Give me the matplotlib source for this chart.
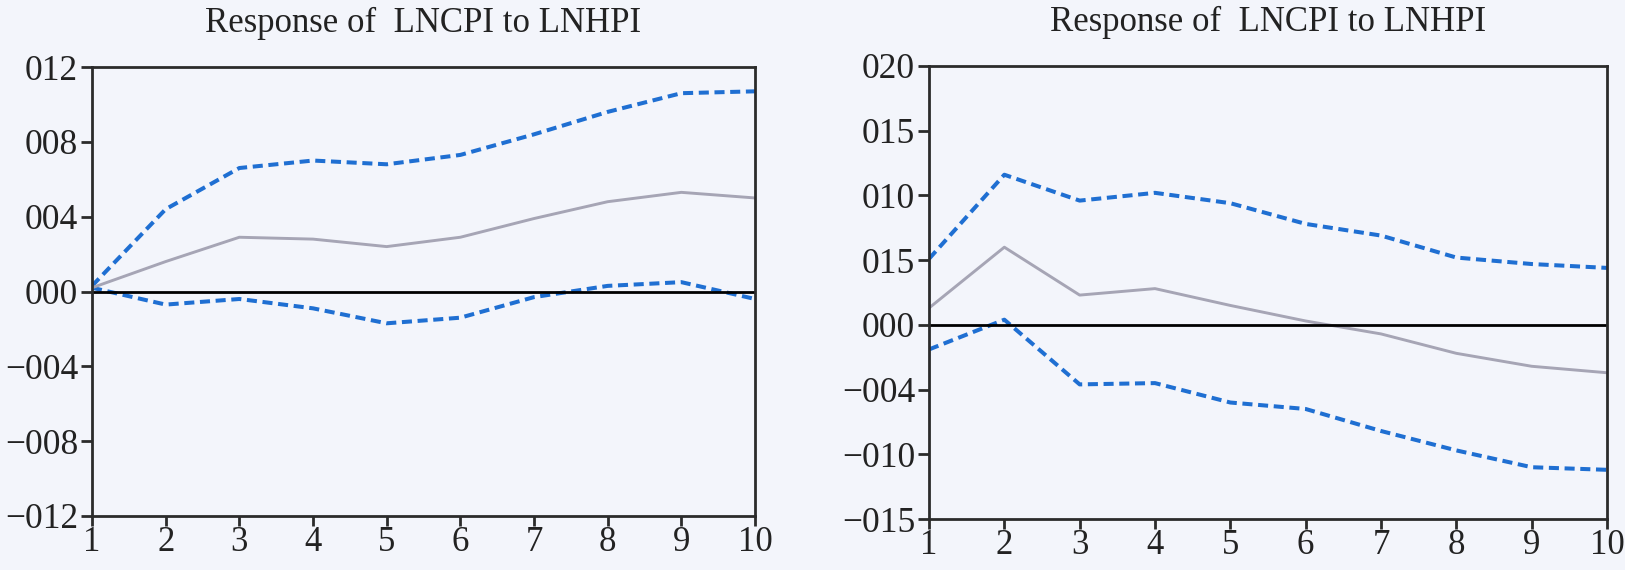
import matplotlib
matplotlib.use("Agg")
import matplotlib.pyplot as plt

# impulse response periods
periods = [1, 2, 3, 4, 5, 6, 7, 8, 9, 10]

# left panel (in thousandths)
left_resp = [0.2, 1.6, 2.9, 2.8, 2.4, 2.9, 3.9, 4.8, 5.3, 5.0]
left_upper = [0.3, 4.4, 6.6, 7.0, 6.8, 7.3, 8.4, 9.6, 10.6, 10.7]
left_lower = [0.2, -0.7, -0.4, -0.9, -1.7, -1.4, -0.3, 0.3, 0.5, -0.4]
left_ticks = [12, 8, 4, 0, -4, -8, -12]
left_labels = ["012", "008", "004", "000", "\u2212004", "\u2212008", "\u2212012"]

# right panel
right_resp = [1.3, 6.0, 2.3, 2.8, 1.5, 0.3, -0.7, -2.2, -3.2, -3.7]
right_upper = [5.1, 11.6, 9.6, 10.2, 9.4, 7.8, 6.9, 5.2, 4.7, 4.4]
right_lower = [-1.9, 0.4, -4.6, -4.5, -6.0, -6.5, -8.2, -9.7, -11.0, -11.2]
right_ticks = [20, 15, 10, 5, 0, -5, -10, -15]
right_labels = ["020", "015", "010", "015", "000", "\u2212004", "\u2212010", "\u2212015"]

title = "Response of  LNCPI to LNHPI"

bg = "#f3f5fb"
blue = "#1f6fd2"
gray = "#a6a5b5"
dark = "#2b2b2b"

plt.rcParams['font.family'] = ['Liberation Serif', 'DejaVu Serif']

fig = plt.figure(figsize=(16.25, 5.70), dpi=100, facecolor=bg)
ax1 = fig.add_axes([92 / 1625, 1 - 516 / 570, 663 / 1625, 449 / 570])
ax2 = fig.add_axes([929 / 1625, 1 - 519 / 570, 678 / 1625, 453 / 570])


def draw_panel(ax, resp, upper, lower, ticks, labels):
    ax.set_facecolor(bg)
    ax.plot(periods, upper, color=blue, lw=2.9, dashes=(2.5, 1.4))
    ax.plot(periods, lower, color=blue, lw=2.9, dashes=(2.5, 1.4))
    ax.plot(periods, resp, color=gray, lw=2.1)
    ax.axhline(0, color="black", lw=2.0)
    ax.set_xlim(1, 10)
    ax.set_ylim(min(ticks), max(ticks))
    ax.set_xticks(periods)
    ax.set_yticks(ticks)
    ax.set_yticklabels(labels)
    for s in ax.spines.values():
        s.set_linewidth(2.0)
        s.set_color(dark)
    ax.tick_params(direction="out", length=8, width=2.0, color=dark,
                   labelsize=25.5, labelcolor="#222222", pad=2)
    ax.tick_params(axis="x", length=7, pad=0.5, labelsize=25)
    ax.set_title(title, fontsize=25, color="#222222", pad=25)


draw_panel(ax1, left_resp, left_upper, left_lower, left_ticks, left_labels)
draw_panel(ax2, right_resp, right_upper, right_lower, right_ticks, right_labels)

fig.savefig("out.png", dpi=100, facecolor=bg)
